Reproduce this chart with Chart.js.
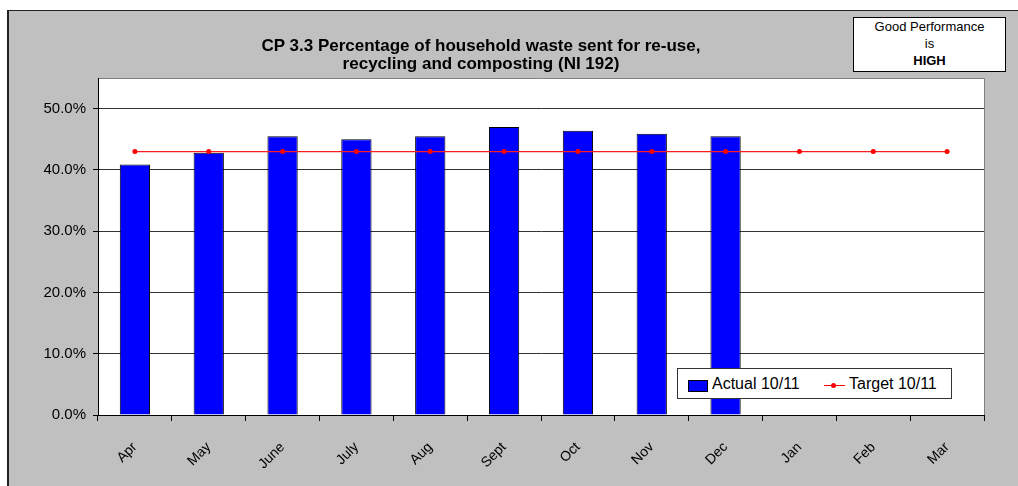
<!DOCTYPE html>
<html>
<head>
<meta charset="utf-8">
<script src="https://cdn.jsdelivr.net/npm/chart.js@4/dist/chart.umd.min.js"></script>
<style>
  html, body { margin: 0; padding: 0; background: #fff; overflow: hidden; }
  body { width: 1018px; height: 486px; position: relative; font-family: Arial, "Liberation Sans", sans-serif; }
  #frame { position: absolute; left: 7px; top: 10px; width: 1100px; height: 600px;
           background: #c0c0c0; border-left: 2px solid #222; border-top: 1px solid #222; }
  #chart { position: absolute; left: 0; top: 0; }
  #title { position: absolute; left: 231px; top: 37px; width: 500px; text-align: center;
           font-weight: bold; font-size: 17px; line-height: 18px; color: #000; }
  #perf { position: absolute; left: 853px; top: 17px; width: 151px; height: 53px;
          border: 1px solid #000; background: #fff; text-align: center;
          font-size: 13px; line-height: 17px; color: #000; }
  #legend { position: absolute; left: 677px; top: 368px; width: 273px; height: 29px;
            border: 1px solid #333; background: #fff; font-size: 16px; color: #000; }
  #legend span { position: absolute; top: 7px; line-height: 16px; white-space: nowrap; }
  .sw { position: absolute; left: 10px; top: 11px; width: 18px; height: 10px;
        background: #0000ff; border: 1px solid #000; }
  .ln { position: absolute; left: 146px; top: 16px; width: 21px; height: 1px; background: #ff0000; }
  .dot { position: absolute; left: 153px; top: 14px; width: 5px; height: 5px; border-radius: 50%; background: #ff0000; }
</style>
</head>
<body>
<div id="frame"></div>
<canvas id="chart" width="1018" height="486"></canvas>
<div id="title">CP 3.3 Percentage of household waste sent for re-use,<br>recycling and composting (NI 192)</div>
<div id="perf">Good Performance<br>is<br><b>HIGH</b></div>
<div id="legend">
  <div class="sw"></div><span style="left:34px">Actual 10/11</span>
  <div class="ln"></div><div class="dot"></div><span style="left:171px">Target 10/11</span>
</div>
<script>
// ─── Data ───────────────────────────────────────────────────

const months = ['Apr', 'May', 'June', 'July', 'Aug', 'Sept', 'Oct', 'Nov', 'Dec', 'Jan', 'Feb', 'Mar'];
const actual = [40.9, 42.8, 45.5, 45.0, 45.5, 47.0, 46.4, 45.9, 45.5, null, null, null];
const target = [43, 43, 43, 43, 43, 43, 43, 43, 43, 43, 43, 43];
const yTicks = [0, 10, 20, 30, 40, 50];

// ─── Plot area plugin ───────────────────────────────────────

const plotArea = {
  id: 'plotArea',
  beforeDraw(chart) {
    const { ctx, chartArea: a } = chart;
    ctx.save();
    ctx.fillStyle = '#fff';
    ctx.fillRect(a.left, a.top, a.right - a.left, a.bottom - a.top);
    ctx.strokeStyle = '#808080';
    ctx.lineWidth = 1;
    ctx.beginPath();
    ctx.moveTo(a.left, a.top + 0.5);
    ctx.lineTo(a.right + 0.5, a.top + 0.5);
    ctx.lineTo(a.right + 0.5, a.bottom);
    ctx.stroke();
    ctx.restore();
  },
};

// ─── Chart ──────────────────────────────────────────────────

const family = 'Arial, "Liberation Sans", sans-serif';

new Chart(document.getElementById('chart'), {
  type: 'bar',
  data: {
    labels: months,
    datasets: [
      {
        type: 'line',
        label: 'Target 10/11',
        data: target,
        showLine: true,
        fill: false,
        borderColor: 'rgb(255, 30, 30)',
        backgroundColor: 'rgb(255, 0, 0)',
        borderWidth: 1.2,
        pointRadius: 2.5,
        pointBorderWidth: 0,
        pointBorderColor: 'rgb(255, 0, 0)',
        pointBackgroundColor: 'rgb(255, 0, 0)',
        order: 0,
      },
      {
        type: 'bar',
        label: 'Actual 10/11',
        data: actual,
        backgroundColor: '#0000ff',
        borderColor: '#000',
        borderWidth: 1,
        barPercentage: 0.41,
        categoryPercentage: 1,
        order: 1,
      },
    ],
  },
  options: {
    responsive: false,
    animation: false,
    devicePixelRatio: 1,
    layout: { padding: { top: 78, right: 34, left: 0, bottom: 0 } },
    plugins: {
      legend: { display: false },
      title: { display: false },
      tooltip: { enabled: false },
    },
    scales: {
      x: {
        offset: true,
        grid: { offset: true, drawOnChartArea: false, drawTicks: true, tickLength: 6, tickColor: '#000' },
        border: { display: true, color: '#000', width: 1 },
        ticks: { minRotation: 45, maxRotation: 45, padding: 18, color: '#000', font: { family, size: 14 } },
        afterFit(scale) { scale.height = 71; },
      },
      y: {
        min: 0,
        max: 55,
        grid: { color: '#333', tickLength: 5, tickColor: '#000' },
        border: { display: true, color: '#000', width: 1 },
        ticks: {
          stepSize: 10,
          padding: 7,
          color: '#000',
          font: { family, size: 15 },
          callback: v => v.toFixed(1) + '%',
        },
        afterBuildTicks(scale) {
          scale.ticks = yTicks.map(v => ({ value: v }));
        },
        afterFit(scale) { scale.width = 98; },
      },
    },
  },
  plugins: [plotArea],
});
</script>
</body>
</html>
